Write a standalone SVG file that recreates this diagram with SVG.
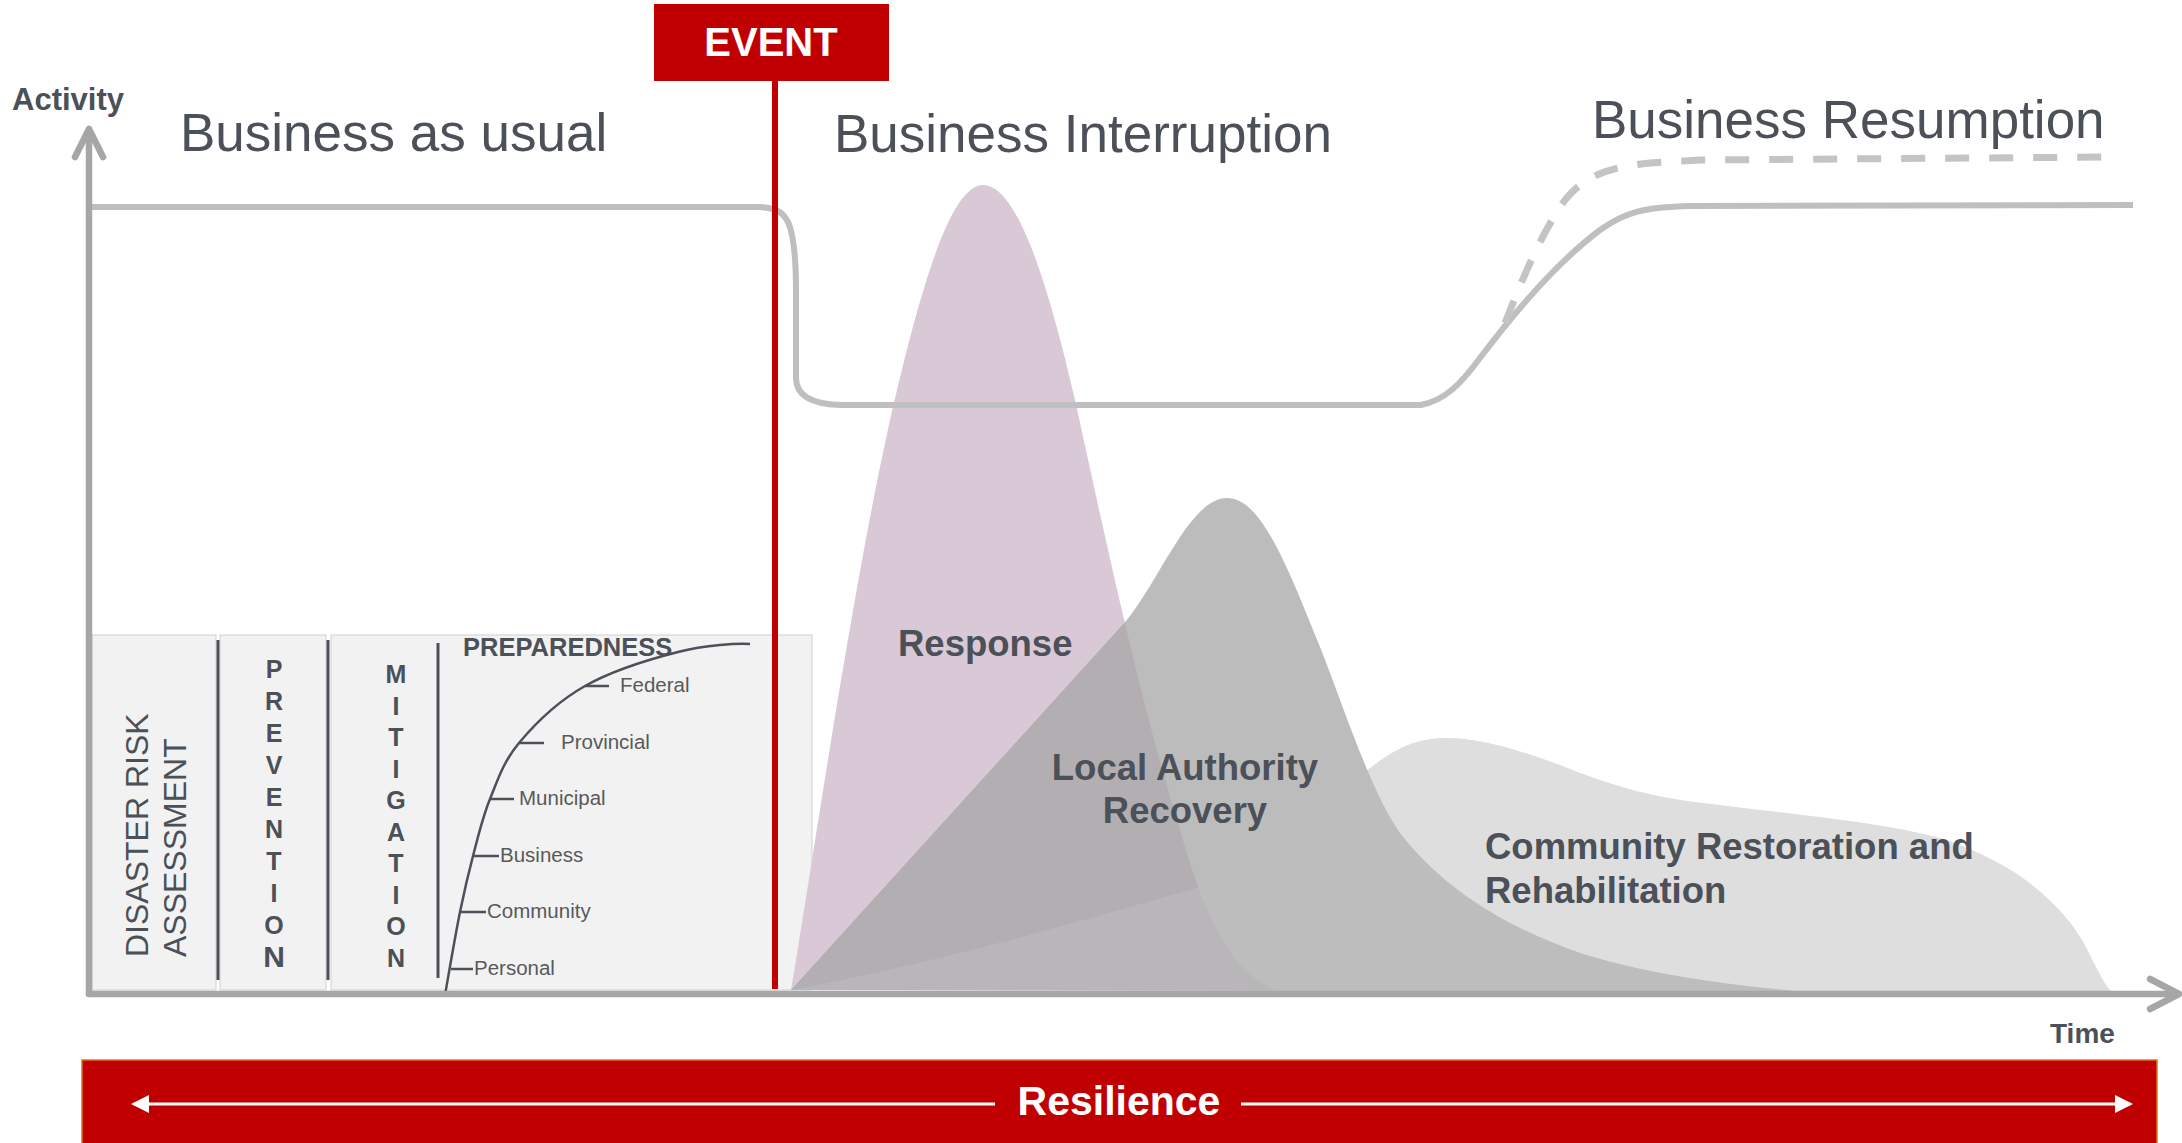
<svg xmlns="http://www.w3.org/2000/svg" width="2182" height="1143" viewBox="0 0 2182 1143">
<style>
.head{font-family:"Liberation Sans",Arial,sans-serif;font-size:53px;fill:#4b5059}
.bold{font-family:"Liberation Sans",Arial,sans-serif;font-weight:bold;fill:#4b5059}
.reg{font-family:"Liberation Sans",Arial,sans-serif;fill:#4b5059}
.lvl{font-family:"Liberation Sans",Arial,sans-serif;font-size:20.5px;fill:#595959}
.white{font-family:"Liberation Sans",Arial,sans-serif;font-weight:bold;fill:#ffffff}
.sect{fill:#f2f2f2;stroke:#d0d0d0;stroke-width:1}
.div{stroke:#4b5059;stroke-width:3;fill:none}
.tick{stroke:#4b5059;stroke-width:2.5;fill:none}
.axis{stroke:#a6a6a6;stroke-width:6.5;fill:none;stroke-linecap:round;stroke-linejoin:round}
.biz{stroke:#bfbfbf;stroke-width:6;fill:none;stroke-linejoin:round}
</style>
<defs>
<marker id="wa" markerWidth="6" markerHeight="6" refX="5" refY="3" orient="auto-start-reverse" markerUnits="strokeWidth">
<path d="M0,0 L6,3 L0,6 Z" fill="#ffffff"/>
</marker>
</defs>
<rect width="2182" height="1143" fill="#ffffff"/>

<g id="phase-panel">
<rect class="sect" x="92" y="635" width="124" height="355"/>
<rect class="sect" x="220" y="635" width="106" height="355"/>
<rect class="sect" x="331" y="635" width="481" height="355"/>
<line class="div" x1="218" y1="640" x2="218" y2="980"/>
<line class="div" x1="328" y1="640" x2="328" y2="980"/>
<line class="div" x1="438" y1="643" x2="438" y2="978"/>
<g id="dra">
<text class="reg" font-size="32" transform="translate(148,957) rotate(-90)">DISASTER RISK</text>
<text class="reg" font-size="32" transform="translate(186,957) rotate(-90)">ASSESSMENT</text>
</g>
<g id="prevention" class="bold" font-size="25" text-anchor="middle">
<text x="274" y="678">P</text><text x="274" y="710">R</text><text x="274" y="742">E</text><text x="274" y="774">V</text><text x="274" y="806">E</text><text x="274" y="838">N</text><text x="274" y="870">T</text><text x="274" y="902">I</text><text x="274" y="934">O</text><text x="274" y="967" font-size="30">N</text>
</g>
<g id="mitigation" class="bold" font-size="25" text-anchor="middle">
<text x="396" y="683">M</text><text x="396" y="715">I</text><text x="396" y="746">T</text><text x="396" y="778">I</text><text x="396" y="809">G</text><text x="396" y="841">A</text><text x="396" y="872">T</text><text x="396" y="904">I</text><text x="396" y="935">O</text><text x="396" y="967">N</text>
</g>
<g id="preparedness">
<text class="bold" font-size="25.5" x="463" y="656">PREPAREDNESS</text>
<path class="tick" d="M445,995 C447.5,981 455.3,935 460,912 C464.7,889 468,875 473,856 C478,837 482.3,818 490,799 C497.7,780 503.2,762 519,743 C534.8,724 558.5,701 585,686 C611.5,671 650.5,659 678,652 C705.5,645 738,643 750,644"/>
<line class="tick" x1="451" y1="969" x2="473" y2="969"/>
<line class="tick" x1="460" y1="912" x2="486" y2="912"/>
<line class="tick" x1="473" y1="856" x2="499" y2="856"/>
<line class="tick" x1="490" y1="799" x2="514" y2="799"/>
<line class="tick" x1="519" y1="743" x2="544" y2="743"/>
<line class="tick" x1="585" y1="686" x2="609" y2="686"/>
<text class="lvl" x="620" y="692">Federal</text>
<text class="lvl" x="561" y="749">Provincial</text>
<text class="lvl" x="519" y="805">Municipal</text>
<text class="lvl" x="500" y="862">Business</text>
<text class="lvl" x="487" y="918">Community</text>
<text class="lvl" x="474" y="975">Personal</text>
</g>
</g>

<g id="response-shape">
<path d="M791,990 C810,880 850,600 890,420 C920,290 950,185 983,185 C1015,185 1045,270 1075,400 C1110,560 1140,700 1180,830 C1200,900 1225,970 1275,990 Z" fill="#d9c9d6"/>
</g>
<g id="recovery-shape">
<path d="M791,990 L1126,621 C1160,580 1190,498 1227,498 C1260,498 1285,560 1320,647 C1345,710 1370,790 1400,833 C1440,885 1500,925 1580,953 C1640,972 1720,985 1810,992 Z" fill="#a5a5a5" fill-opacity="0.74"/>
</g>
<g id="restoration-shape">
<path d="M791,990 C950,960 1100,915 1200,887 C1280,860 1330,800 1370,768 C1400,745 1420,738 1447,738 C1480,738 1520,750 1560,765 C1610,785 1650,798 1720,805 C1800,815 1880,822 1940,838 C2010,860 2060,900 2085,945 C2100,975 2105,985 2112,992 Z" fill="#bdbdbd" fill-opacity="0.5"/>
</g>

<g id="connectors">
<path class="biz" d="M90,207 L760,207 C780,208 788,215 792,235 C795,250 796,270 796,290 L796,378 C796,395 810,404 840,405 L1421,405 C1445,400 1460,385 1480,358 C1520,305 1560,260 1600,230 C1625,212 1645,207 1690,206 L2133,205"/>
<path d="M1505,323 C1520,285 1540,235 1565,200 C1585,175 1610,167 1650,163 L1700,160 L2113,157" stroke="#c4c4c4" stroke-width="7" fill="none" stroke-dasharray="24 20"/>
<line x1="775" y1="78" x2="775" y2="989" stroke="#c00000" stroke-width="6"/>
<polyline class="axis" points="89,994 89,130"/>
<polyline class="axis" points="75,157 89,129 103,157"/>
<polyline class="axis" points="89,994 2178,994"/>
<polyline class="axis" points="2150,979 2179,994 2150,1009"/>
</g>

<g id="event">
<rect x="654" y="4" width="235" height="77" fill="#c00000"/>
<text class="white" font-size="40" x="771" y="56" text-anchor="middle">EVENT</text>
</g>

<g id="labels">
<text class="bold" font-size="31" x="12" y="110">Activity</text>
<text class="bold" font-size="28" x="2050" y="1043">Time</text>
<text class="head" x="180" y="151">Business as usual</text>
<text class="head" x="834" y="152">Business Interruption</text>
<text class="head" x="1592" y="138">Business Resumption</text>
<text class="bold" font-size="36.5" x="898" y="656">Response</text>
<text class="bold" font-size="36.5" x="1185" y="780" text-anchor="middle">Local Authority</text>
<text class="bold" font-size="36.5" x="1185" y="823" text-anchor="middle">Recovery</text>
<text class="bold" font-size="36.5" x="1485" y="859">Community Restoration and</text>
<text class="bold" font-size="36.5" x="1485" y="903">Rehabilitation</text>
</g>

<g id="resilience">
<rect x="82" y="1060" width="2075" height="84" fill="#c00000" stroke="#e0701a" stroke-width="1.5"/>
<line x1="995" y1="1104" x2="134" y2="1104" stroke="#ffffff" stroke-width="3" marker-end="url(#wa)"/>
<line x1="1241" y1="1104" x2="2130" y2="1104" stroke="#ffffff" stroke-width="3" marker-end="url(#wa)"/>
<text class="white" font-size="41" x="1119" y="1115" text-anchor="middle">Resilience</text>
</g>
</svg>
